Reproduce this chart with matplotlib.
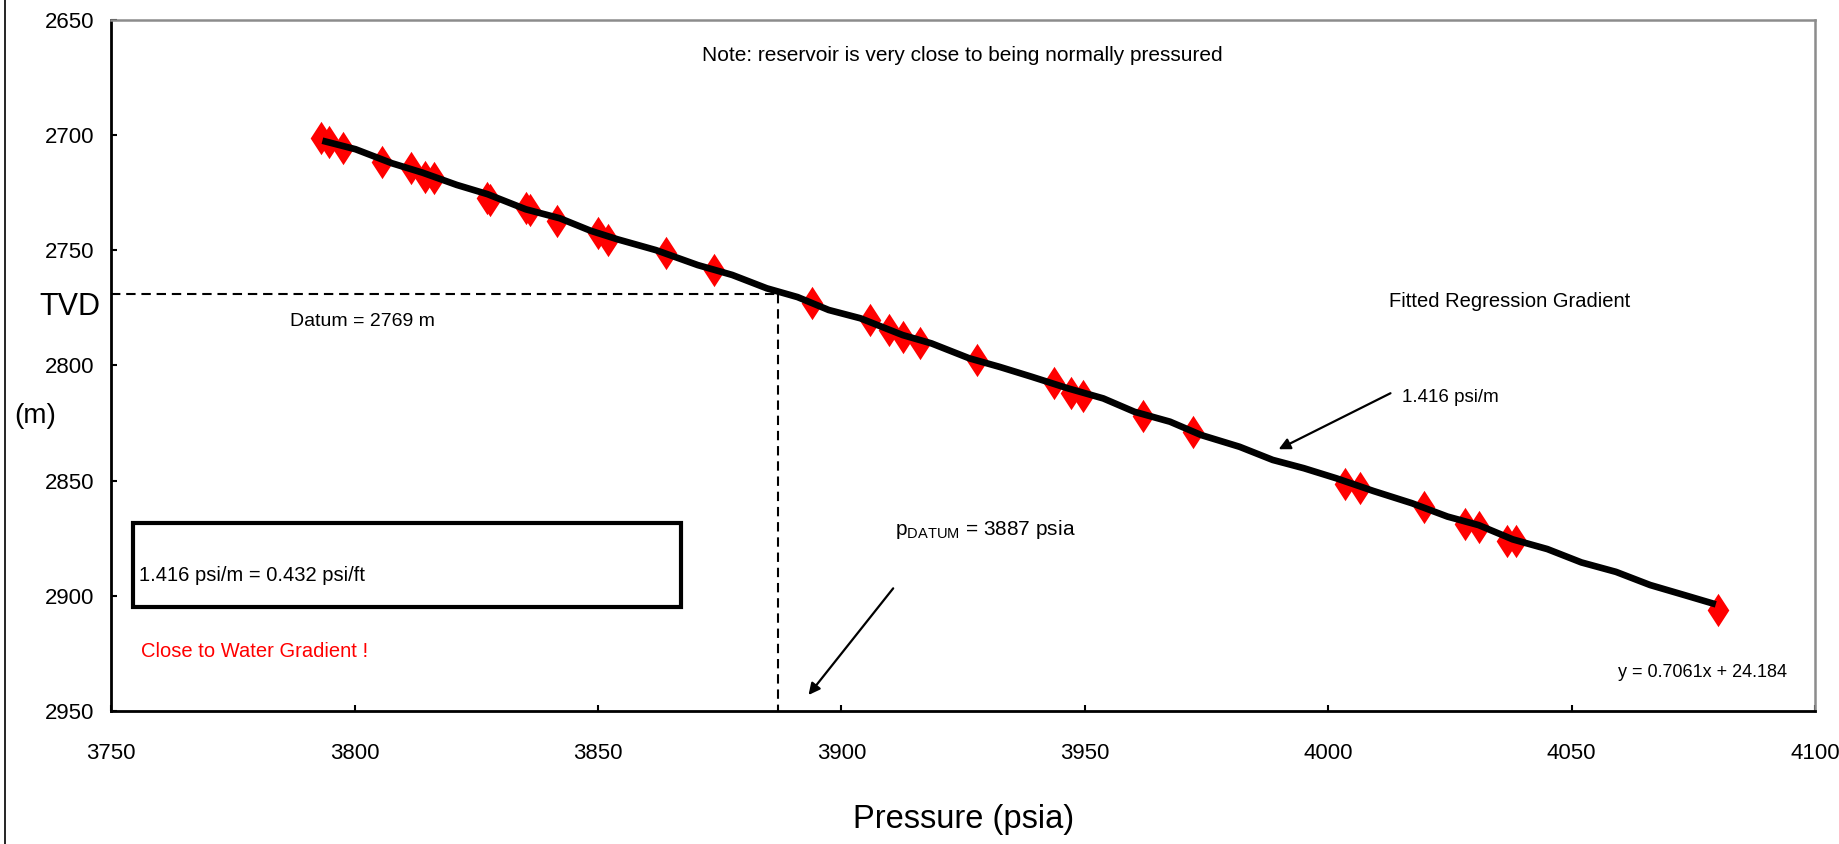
import matplotlib
matplotlib.use("Agg")
import matplotlib.pyplot as plt
from matplotlib.patches import Rectangle
from matplotlib.lines import Line2D

plt.rcParams['font.family'] = ['Liberation Sans Narrow', 'Liberation Sans', 'DejaVu Sans']
plt.rcParams['mathtext.default'] = 'regular'

# pressure survey points (psia) and true vertical depth (m)
pressure = [3793.1, 3794.7, 3797.6, 3805.7, 3811.6, 3814.4, 3816.3, 3827.2, 3827.9,
            3835.2, 3836.0, 3841.5, 3850.1, 3852.1, 3863.9, 3873.9, 3893.9, 3905.8,
            3909.7, 3912.7, 3916.2, 3927.8, 3943.7, 3947.2, 3949.7, 3961.9, 3972.2,
            4003.4, 4006.5, 4019.7, 4028.0, 4030.9, 4036.7, 4038.6, 4080.1]
depth = [2701.4, 2702.8, 2705.7, 2711.5, 2714.4, 2718.0, 2718.7, 2727.4, 2728.2,
         2731.8, 2732.5, 2737.1, 2742.6, 2745.5, 2751.3, 2758.5, 2772.7, 2780.3,
         2784.6, 2787.5, 2790.4, 2797.6, 2807.7, 2812.1, 2813.1, 2821.8, 2828.7,
         2851.5, 2853.3, 2861.6, 2868.8, 2870.3, 2876.1, 2876.1, 2906.2]

# fitted gradient line
fit_p = [3793.4, 3800.2, 3807.7, 3814.0, 3821.0, 3827.3, 3835.2, 3842.2, 3848.5,
         3854.0, 3861.9, 3870.5, 3877.6, 3884.7, 3891.0, 3897.4, 3903.9, 3912.6,
         3918.5, 3926.3, 3932.5, 3939.1, 3946.5, 3953.8, 3960.2, 3967.5, 3973.9,
         3981.8, 3988.6, 3995.0, 4001.7, 4009.3, 4017.2, 4024.5, 4030.9, 4037.9,
         4045.0, 4052.0, 4059.1, 4066.1, 4073.2, 4079.6]
fit_d = [2702.4, 2706.1, 2712.2, 2716.3, 2721.6, 2725.6, 2732.2, 2736.1, 2741.5,
         2745.2, 2749.9, 2756.4, 2760.7, 2766.5, 2770.3, 2775.9, 2779.5, 2786.8,
         2790.4, 2796.9, 2800.6, 2804.9, 2809.9, 2814.3, 2820.1, 2824.4, 2830.2,
         2835.3, 2841.0, 2844.6, 2849.0, 2854.5, 2859.8, 2865.6, 2869.3, 2875.5,
         2879.7, 2885.5, 2889.6, 2895.3, 2899.7, 2903.7]

datum_depth = 2769
datum_pressure = 3887

xticks = [3750, 3800, 3850, 3900, 3950, 4000, 4050, 4100]
yticks = [2650, 2700, 2750, 2800, 2850, 2900, 2950]

fig = plt.figure(figsize=(18.39, 8.44), dpi=100)
ax = fig.add_axes([0.0604, 0.1576, 0.9266, 0.8187])

diamond = [(-0.65, 0), (0, 1), (0.65, 0), (0, -1), (-0.65, 0)]
ax.plot(pressure, depth, linestyle='none', marker=diamond, markersize=24,
        color='red', markeredgewidth=0, zorder=3)
ax.plot(fit_p, fit_d, color='black', lw=4.8, solid_capstyle='butt', zorder=4)

# datum cross-hair
ax.plot([3750, datum_pressure], [datum_depth, datum_depth], color='black', lw=1.5,
        dashes=(4.5, 2.8))
ax.plot([datum_pressure, datum_pressure], [datum_depth, 2950], color='black', lw=1.5,
        dashes=(4.5, 2.8))

ax.set_xlim(3750, 4100)
ax.set_ylim(2950, 2650)
ax.set_xticks(xticks)
ax.set_yticks(yticks)
ax.tick_params(axis='both', direction='in', length=4.5, width=1.5, labelsize=16)
ax.tick_params(axis='x', pad=23)
ax.tick_params(axis='y', pad=12)

for side in ['left', 'bottom']:
    ax.spines[side].set_linewidth(2)
    ax.spines[side].set_color('black')
for side in ['top', 'right']:
    ax.spines[side].set_linewidth(1.8)
    ax.spines[side].set_color('#8c8c8c')

ax.set_xlabel('Pressure (psia)', fontsize=23.5, labelpad=29)

# annotations
ax.text(3924.9, 2665.2, 'Note: reservoir is very close to being normally pressured',
        ha='center', va='center', fontsize=15)
ax.text(3786.8, 2780.7, 'Datum = 2769 m', ha='left', va='center', fontsize=14)
ax.text(4012.4, 2772.4, 'Fitted Regression Gradient', ha='left', va='center', fontsize=14.5)
ax.text(4015.1, 2813.7, '1.416 psi/m', ha='left', va='center', fontsize=13.5)
ax.annotate('', xy=(3989.3, 2836.9), xytext=(4013.3, 2811.5),
            arrowprops=dict(arrowstyle='-|>', color='black', lw=1.6, mutation_scale=17))
ax.text(3911.0, 2871.4, r'p$_{DATUM}$ = 3887 psia', ha='left', va='center', fontsize=15)
ax.annotate('', xy=(3892.9, 2944.0), xytext=(3911.0, 2895.8),
            arrowprops=dict(arrowstyle='-|>', color='black', lw=1.6, mutation_scale=17))
ax.text(4059.6, 2933.5, 'y = 0.7061x + 24.184', ha='left', va='center', fontsize=13)

ax.add_patch(Rectangle((0.0129, 0.1505), 0.3216, 0.1215, transform=ax.transAxes,
                       facecolor='white', edgecolor='black', lw=3, zorder=5))
ax.text(3755.7, 2891.0, '1.416 psi/m = 0.432 psi/ft', ha='left', va='center',
        fontsize=14.5, zorder=6)
ax.text(3756.2, 2924.0, 'Close to Water Gradient !', ha='left', va='center',
        fontsize=14.5, color='red')

fig.text(70 / 1839, 1 - 307 / 844, 'TVD', ha='center', va='center', fontsize=22)
fig.text(35 / 1839, 1 - 416 / 844, '(m)', ha='center', va='center', fontsize=20)

fig.add_artist(Line2D([5 / 1839, 5 / 1839], [0, 1], transform=fig.transFigure,
                      color='black', lw=1.2))

fig.savefig('out.png', dpi=100)
